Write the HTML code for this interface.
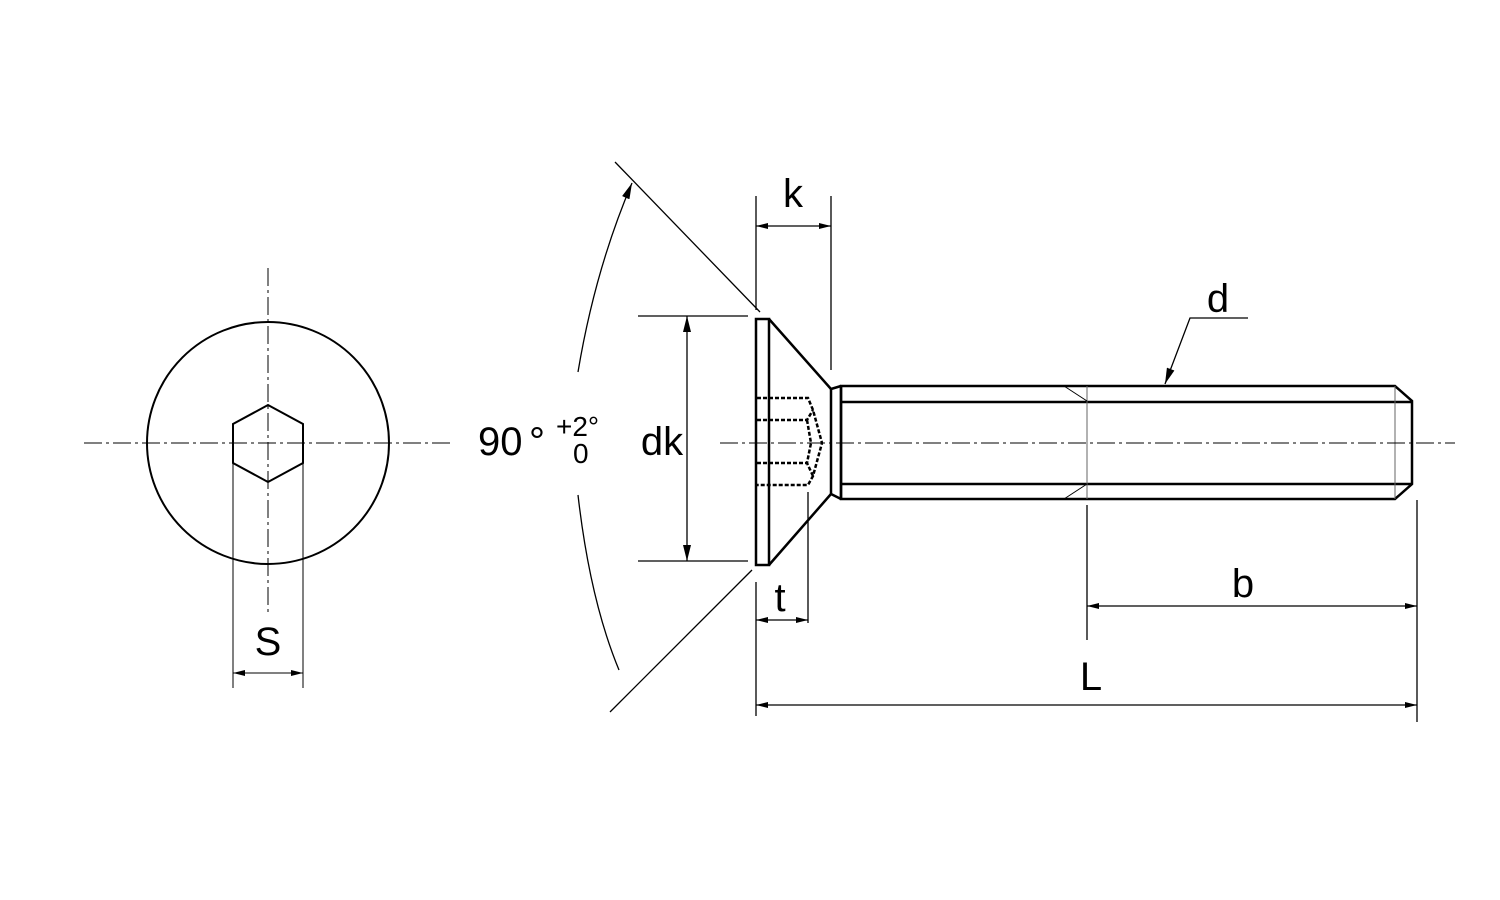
<!DOCTYPE html>
<html><head><meta charset="utf-8"><style>body{margin:0;background:#fff}svg{display:block}text{font-family:"Liberation Sans",sans-serif;fill:#000}</style></head><body>
<svg width="1500" height="900" viewBox="0 0 1500 900" xmlns="http://www.w3.org/2000/svg">
<defs>
<marker id="a" viewBox="0 0 12 6" refX="12" refY="3" markerWidth="12" markerHeight="6" orient="auto-start-reverse" markerUnits="userSpaceOnUse"><path d="M0,0 L12,3 L0,6z" fill="#000"/></marker>
<marker id="b" viewBox="0 0 16 8" refX="16" refY="4" markerWidth="16" markerHeight="8" orient="auto-start-reverse" markerUnits="userSpaceOnUse"><path d="M0,0 L16,4 L0,8z" fill="#000"/></marker>
</defs>
<g stroke="#000" fill="none">
<circle cx="268" cy="443" r="121" stroke-width="2"/>
<polygon points="268,405 303,424 303,463 268,482 233,463 233,424" stroke-width="2"/>
<line x1="84" y1="443" x2="452" y2="443" stroke-width="1" stroke-dasharray="18,4,3,4"/>
<line x1="268" y1="268" x2="268" y2="615" stroke-width="1" stroke-dasharray="18,4,3,4"/>
<line x1="233" y1="463" x2="233" y2="688" stroke-width="1"/>
<line x1="303" y1="463" x2="303" y2="688" stroke-width="1"/>
<line x1="233" y1="673" x2="303" y2="673" stroke-width="1" marker-start="url(#a)" marker-end="url(#a)"/>
<rect x="756" y="319" width="13" height="246" stroke-width="2.5"/>
<path d="M769,319 L831,389 M769,565 L831,494" stroke-width="2.5"/>
<path d="M831,389 L831,494 M831,389 L841,386 M831,494 L841,499" stroke-width="2.5"/>
<path d="M841,386 L1395,386 L1412,401 L1412,484 L1395,499 L841,499 Z" stroke-width="2.5"/>
<path d="M841,386 L841,499 M841,402 L1412,402 M841,484 L1412,484" stroke-width="2.5"/>
<line x1="1087" y1="386" x2="1087" y2="499" stroke-width="1" stroke="#666"/>
<line x1="1395" y1="386" x2="1395" y2="499" stroke-width="1" stroke="#666"/>
<path d="M1064,386 L1087,401 M1064,499 L1087,484" stroke-width="1"/>
<g stroke-width="2.5" stroke-dasharray="4,2">
<path d="M757,398 L808,398 L813,410 L822,443 L813,476 L808,485 L757,485"/>
<path d="M757,420 L807,420 L813,410 M807,420 L811,443 L807,463 L813,476 M757,463 L807,463"/>
</g>
<line x1="720" y1="443" x2="1455" y2="443" stroke-width="1" stroke-dasharray="18,4,3,4"/>
<line x1="615" y1="162" x2="760" y2="312" stroke-width="1.3"/>
<line x1="752" y1="570" x2="610" y2="712" stroke-width="1.3"/>
<path d="M578,372 Q595,270 632,183" stroke-width="1.3" marker-end="url(#b)"/>
<path d="M578,495 Q590,600 619,670" stroke-width="1.3"/>
<line x1="756" y1="196" x2="756" y2="310" stroke-width="1.3"/>
<line x1="831" y1="196" x2="831" y2="370" stroke-width="1.3"/>
<line x1="756" y1="226" x2="831" y2="226" stroke-width="1.3" marker-start="url(#a)" marker-end="url(#a)"/>
<line x1="638" y1="316" x2="748" y2="316" stroke-width="1.3"/>
<line x1="638" y1="561" x2="748" y2="561" stroke-width="1.3"/>
<line x1="687" y1="316" x2="687" y2="561" stroke-width="1.3" marker-start="url(#b)" marker-end="url(#b)"/>
<line x1="756" y1="582" x2="756" y2="716" stroke-width="1.3"/>
<line x1="808" y1="492" x2="808" y2="623" stroke-width="1.3"/>
<line x1="756" y1="620" x2="808" y2="620" stroke-width="1.3" marker-start="url(#a)" marker-end="url(#a)"/>
<line x1="1087" y1="505" x2="1087" y2="640" stroke-width="1.3"/>
<line x1="1417" y1="500" x2="1417" y2="722" stroke-width="1.3"/>
<line x1="1087" y1="606" x2="1417" y2="606" stroke-width="1.3" marker-start="url(#a)" marker-end="url(#a)"/>
<line x1="756" y1="705" x2="1417" y2="705" stroke-width="1.3" marker-start="url(#a)" marker-end="url(#a)"/>
<path d="M1248,318 L1190,318 L1165,384" stroke-width="1.3" marker-end="url(#b)"/>
</g>
<g font-size="40">
<text x="268" y="655" text-anchor="middle">S</text>
<text x="793" y="207" text-anchor="middle">k</text>
<text x="662" y="455" text-anchor="middle">dk</text>
<text x="780" y="611" text-anchor="middle">t</text>
<text x="1243" y="597" text-anchor="middle">b</text>
<text x="1091" y="690" text-anchor="middle">L</text>
<text x="1218" y="312" text-anchor="middle">d</text>
<text x="478" y="455">90</text>
<text x="529" y="455">°</text>
</g>
<g font-size="28">
<text x="556" y="436">+2°</text>
<text x="573" y="463">0</text>
</g>
</svg>
</body></html>
